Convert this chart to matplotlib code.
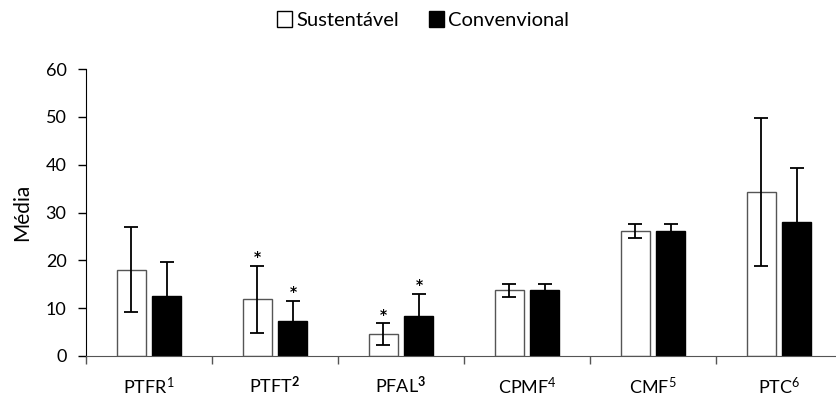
import matplotlib
matplotlib.use("Agg")
import matplotlib.pyplot as plt
import numpy as np
from matplotlib.patches import Patch

plt.rcParams['font.family'] = ['Lato', 'DejaVu Sans']
plt.rcParams['mathtext.fontset'] = 'custom'
plt.rcParams['mathtext.rm'] = 'Lato'
plt.rcParams['mathtext.it'] = 'Lato'
plt.rcParams['mathtext.bf'] = 'Lato:bold'

categories = ["PTFR$^{1}$", "PTFT$^{\\mathbf{2}}$", "PFAL$^{\\mathbf{3}}$", "CPMF$^{4}$", "CMF$^{5}$", "PTC$^{6}$"]
sustentavel = [18.0, 11.9, 4.5, 13.7, 26.2, 34.3]
sustentavel_err = [8.9, 7.0, 2.3, 1.4, 1.5, 15.4]
convencional = [12.6, 7.3, 8.4, 13.7, 26.2, 28.0]
convencional_err = [7.0, 4.3, 4.6, 1.4, 1.5, 11.2]
star_sust = [False, True, True, False, False, False]
star_conv = [False, True, True, False, False, False]
legend_labels = ["Sustentável", "Convenvional"]

fig = plt.figure(figsize=(8.36, 3.99), dpi=100)
ax = fig.add_axes([86/836, 1-356/399, 756/836, (356-69)/399])

x = np.arange(len(categories)) + 0.5
w = 0.23
gap = 0.055
xs = x - gap/2 - w/2
xc = x + gap/2 + w/2

ax.bar(xs, sustentavel, w, color='white', edgecolor='#555555', linewidth=1.0, zorder=2)
ax.bar(xc, convencional, w, color='black', edgecolor='black', linewidth=1.0, zorder=2)
ax.errorbar(xs, sustentavel, yerr=sustentavel_err, fmt='none', ecolor='black',
            elinewidth=1.3, capsize=5, capthick=1.3, zorder=3)
ax.errorbar(xc, convencional, yerr=convencional_err, fmt='none', ecolor='black',
            elinewidth=1.3, capsize=5, capthick=1.3, zorder=3)

for xi, v, e, s in zip(xs, sustentavel, sustentavel_err, star_sust):
    if s:
        ax.text(xi, v + e + 0.3, "*", ha='center', va='bottom', fontsize=10,
                fontweight='bold', family='DejaVu Sans')
for xi, v, e, s in zip(xc, convencional, convencional_err, star_conv):
    if s:
        ax.text(xi, v + e + 0.3, "*", ha='center', va='bottom', fontsize=10,
                fontweight='bold', family='DejaVu Sans')

ax.set_xlim(0, 6)
ax.set_ylim(0, 60)
ax.set_yticks(range(0, 61, 10))
ax.tick_params(axis='y', direction='out', length=6, width=1, labelsize=13, pad=8)
ax.set_xticks(np.arange(0, 7))
ax.set_xticklabels([])
ax.tick_params(axis='x', which='major', direction='out', length=6, width=1, colors='#555555')
ax.set_xticks(x, minor=True)
ax.set_xticklabels(categories, minor=True, fontsize=13)
ax.tick_params(axis='x', which='minor', length=0, pad=14, labelcolor='black')

for sp in ['top', 'right']:
    ax.spines[sp].set_visible(False)
ax.spines['left'].set_color('black')
ax.spines['bottom'].set_color('#555555')

ax.set_ylabel("Média", fontsize=15, labelpad=10)

handles = [Patch(facecolor='white', edgecolor='black', linewidth=1.0),
           Patch(facecolor='black', edgecolor='black')]
fig.legend(handles, legend_labels, loc='center', bbox_to_anchor=(423/836, 1-20/399),
           ncol=2, frameon=False, fontsize=14.5, handlelength=0.75, handleheight=0.8,
           handletextpad=0.2, columnspacing=1.5)

fig.savefig("out.png", dpi=100)
